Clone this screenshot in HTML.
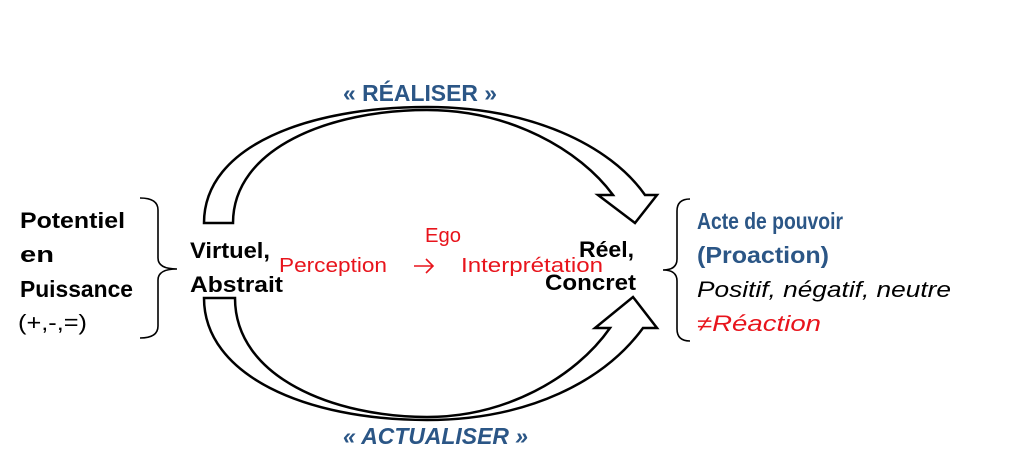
<!DOCTYPE html>
<html><head><meta charset="utf-8"><style>
html,body{margin:0;padding:0;background:#fff;}
svg{display:block;}
text{font-family:"Liberation Sans",sans-serif;}
</style></head><body>
<svg width="1024" height="463" viewBox="0 0 1024 463" xmlns="http://www.w3.org/2000/svg">
<!-- top arrow -->
<path d="M204,223 C204,145 310,107 427,107 C530,107 610,145 645,195 L657,195 L635,223 L598,195 L613,195 C580,150 510,110 427,110 C330,110 233,148 233,223 Z" fill="#fff" stroke="#000" stroke-width="2.5" stroke-linejoin="miter"/>
<!-- bottom arrow -->
<path d="M204,298 C204,375 305,420 427,420 C530,420 605,380 643,328 L657,328 L633,297 L595,328 L610,328 C575,378 505,417 427,417 C335,417 235,378 235,298 Z" fill="#fff" stroke="#000" stroke-width="2.5" stroke-linejoin="miter"/>
<!-- left brace -->
<path d="M140,198 Q158,198 158,210 L158,258 Q158,269 177,269 Q158,269 158,280 L158,326 Q158,338 140,338" fill="none" stroke="#000" stroke-width="1.6"/>
<!-- right brace -->
<path d="M690,199 Q677,199 677,211 L677,259 Q677,270 663,270 Q677,270 677,281 L677,329 Q677,341 690,341" fill="none" stroke="#000" stroke-width="1.6"/>

<g font-weight="bold" font-size="22" fill="#000">
<text x="20" y="228" textLength="105" lengthAdjust="spacingAndGlyphs">Potentiel</text>
<text x="20" y="262" textLength="34" lengthAdjust="spacingAndGlyphs">en</text>
<text x="20" y="297" font-size="23" textLength="113" lengthAdjust="spacingAndGlyphs">Puissance</text>
<text x="190" y="258" textLength="80" lengthAdjust="spacingAndGlyphs">Virtuel,</text>
<text x="190" y="292" textLength="93" lengthAdjust="spacingAndGlyphs">Abstrait</text>
<text x="579" y="257" textLength="55" lengthAdjust="spacingAndGlyphs">Réel,</text>
<text x="545" y="290" textLength="91" lengthAdjust="spacingAndGlyphs">Concret</text>
</g>
<text x="18" y="330" font-size="22" textLength="69" lengthAdjust="spacingAndGlyphs">(+,-,=)</text>

<g fill="#e8141c" font-size="20">
<text x="425" y="242" textLength="36" lengthAdjust="spacingAndGlyphs">Ego</text>
<text x="279" y="272" textLength="108" lengthAdjust="spacingAndGlyphs">Perception</text>
<text x="461" y="272" textLength="142" lengthAdjust="spacingAndGlyphs">Interprétation</text>
</g>
<path d="M414,266 L433,266 M426,259 L433,266 L426,273" fill="none" stroke="#e8141c" stroke-width="1.6"/>

<g fill="#2b5686" font-weight="bold" font-size="22">
<text x="697" y="229" font-size="23" textLength="146" lengthAdjust="spacingAndGlyphs">Acte de pouvoir</text>
<text x="697" y="263" font-size="23" textLength="132" lengthAdjust="spacingAndGlyphs">(Proaction)</text>
<text x="343" y="101" font-size="23" textLength="154" lengthAdjust="spacingAndGlyphs">« RÉALISER »</text>
<text x="343" y="444" font-size="23" font-style="italic" textLength="185" lengthAdjust="spacingAndGlyphs">« ACTUALISER »</text>
</g>
<text x="697" y="297" font-style="italic" font-size="22" textLength="254" lengthAdjust="spacingAndGlyphs">Positif, négatif, neutre</text>
<text x="697" y="331" font-style="italic" font-size="22" fill="#e8141c" textLength="124" lengthAdjust="spacingAndGlyphs">≠Réaction</text>
</svg>
</body></html>
